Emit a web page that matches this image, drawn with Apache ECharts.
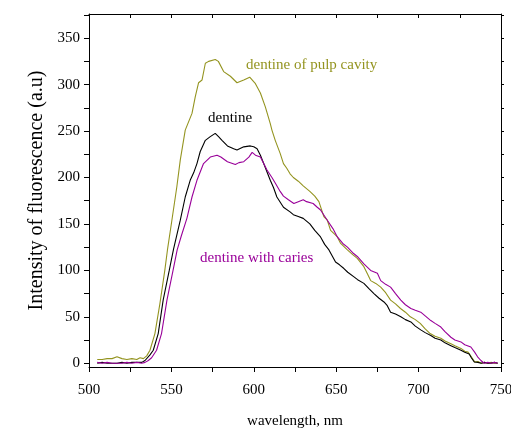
<!DOCTYPE html>
<html><head><meta charset="utf-8">
<script src="https://cdn.jsdelivr.net/npm/echarts@6/dist/echarts.min.js"></script>
<style>html,body{margin:0;padding:0;background:#fff}#c{width:511px;height:430px}</style>
</head><body><div id="c"></div>
<script>
const xTicks = [500,525,550,575,600,625,650,675,700,725,750];
const xLabels = [500,550,600,650,700,750];
const yTicks = [0,25,50,75,100,125,150,175,200,225,250,275,300,325,350,375];
const yLabels = [0,50,100,150,200,250,300,350];

const pulpWl = [505,508,511,514,517,520,523,526,529,531,533,535,537,540,543,546,547.6,550.3,553.3,555.4,558.4,562.5,564.5,566.5,568.6,570.6,572.6,576.6,577.5,578.5,581.7,585.8,589.8,593.9,597.5,601,604,607,610,611,613,616,618,620,622,624,627,630,634,637,639.5,641,642.5,644.6,646.6,649,650.7,652.7,656.8,660,662.8,666.8,669,670.9,674,677,680,683,686,689,692,695,698,701,704,707,710,713.5,716,719.6,722,725.7,728,730,732,734,736,738,740,742,744,746,748];
const pulpVal = [4,4,5,5,7,5,4,5,4,6,5,8,14,32,64,100,122,154,190,219,251,269,287,302,305,323,325,327,328,325,314,309,302,305,308,301,291,276,258,251,240,226,215,210,204,200,196,191,185,180,174,166,158,154,143,139,136,129,122,117,113,104,96,89,86,82,76,68,64,59,55,50,47,43,37,32,29,27,24,21,19,16,13,12,7,1.5,2,0,1,0,1,0,0];

const dentWl = [505,508,511,514,517,520,523,526,529,532,534,535,537,539,542,545,548.7,551.3,555.4,558.4,561.4,563.5,565.5,567.5,570.6,573.6,576.6,578.6,580.7,584,587.8,589.8,593.9,597.9,600,602,604,606,610,612,614,618,622,624,627,630,634,637,640.5,643,645.6,649.6,652,654.7,657,660.8,663,666.8,670,672.9,676,679,681,683,686,689.2,692,695.3,698,701.3,704,707.4,710,713.5,716,719.6,722,725.7,728,730.7,732,733.8,736,738,740,742,744,746,748];
const dentVal = [0,1,0,0,0,1,0,1,1,1,3,5,9,14,32,68,100,123,154,179,197,205,215,228,240,244,247.5,244,240,234,231,229.5,233,234,233,231,224,215,197,189,179,168,163,160,158,156,150,143,136,128,122,109,106,102,98,93,90,86,80,75,70,66,62,55,53,50,47,44.5,40,36,33,30,27,25,22,19,17,14,12,10,6,1.4,1,0,1,0,0,1,0];

const cariesWl = [505,508,511,514,517,520,523,526,529,532,534,536,538,541,544,547.3,551,553.5,556,559.4,562.5,565.5,569.5,573.6,577.7,580,584,588.8,591,593.9,597,599,601,604,606,608,611,613,616,618,621,624.3,627,630,632,636,638.5,640.5,644.6,648,650.7,654,656.8,660,662.8,666.8,670.9,675,677,680,683,686,689.2,692,695.3,698,701.3,704,707.4,710,713.5,716,719.6,722,725.7,728,731.7,734,735.8,737.8,739.8,742,744,746,748];
const cariesVal = [1,0,1,0,0,0,1,0,1,0,1,3,6,14,32,68,100,122,137,156,179,197,215,222,224,222,217,214,216,217,222,227,224,222,215,208,200,194,185,180,176,172,174,176,174,172,168,165,154,145,136,129,125,119,115,107,100,97,89,85,82,75,68,63,59,57,55,51,46,43,39,34,28,25,23,20,17.5,12,7,3,0,1,0,1,0];

const OLIVE = '#949420', PURPLE = '#990099', BLACK = '#000000';
const FONT = '"Liberation Serif", "Times New Roman", serif';
const zip = (a, b) => a.map((v, i) => [v, b[i]]);

const chart = echarts.init(document.getElementById('c'), null, {renderer: 'canvas'});
const axisBase = {
  type: 'value', splitLine: {show: false},
  axisLine: {show: true, onZero: false, lineStyle: {color: '#000', width: 1}}
};
chart.setOption({
  animation: false,
  backgroundColor: '#fff',
  grid: {left: 89, right: 10, top: 14, bottom: 63, containLabel: false, outerBoundsMode: 'none'},
  xAxis: [
    Object.assign({}, axisBase, {
      min: 500, max: 750, position: 'bottom',
      axisTick: {show: true, inside: false, length: 5, customValues: xTicks, lineStyle: {color: '#000'}},
      axisLabel: {customValues: xLabels, margin: 16, fontFamily: FONT, fontSize: 15, color: '#000'},
      name: 'wavelength, nm', nameLocation: 'middle', nameGap: 47,
      nameTextStyle: {fontFamily: FONT, fontSize: 15, color: '#000'}
    }),
    Object.assign({}, axisBase, {
      min: 500, max: 750, position: 'top',
      axisTick: {show: true, inside: true, length: 4, customValues: xTicks, lineStyle: {color: '#000'}},
      axisLabel: {show: false}
    })
  ],
  yAxis: [
    Object.assign({}, axisBase, {
      min: -4, max: 376, position: 'left',
      axisTick: {show: true, inside: false, length: 5, customValues: yTicks, lineStyle: {color: '#000'}},
      axisLabel: {customValues: yLabels, margin: 9, fontFamily: FONT, fontSize: 15, color: '#000'},
      name: 'Intensity of fluorescence (a.u)', nameLocation: 'middle', nameGap: 42, nameRotate: 90,
      nameTextStyle: {fontFamily: FONT, fontSize: 20, color: '#000'}
    }),
    Object.assign({}, axisBase, {
      min: -4, max: 376, position: 'right',
      axisTick: {show: true, inside: false, length: 3, customValues: yTicks, lineStyle: {color: '#000'}},
      axisLabel: {show: false}
    })
  ],
  series: [
    {type: 'line', name: 'dentine of pulp cavity', data: zip(pulpWl, pulpVal), showSymbol: false, smooth: false,
     lineStyle: {color: OLIVE, width: 1.1}, itemStyle: {color: OLIVE}},
    {type: 'line', name: 'dentine', data: zip(dentWl, dentVal), showSymbol: false,
     lineStyle: {color: BLACK, width: 1.1}, itemStyle: {color: BLACK}},
    {type: 'line', name: 'dentine with caries', data: zip(cariesWl, cariesVal), showSymbol: false,
     lineStyle: {color: PURPLE, width: 1.1}, itemStyle: {color: PURPLE}}
  ],
  graphic: [
    {type: 'text', left: 246, top: 58, style: {text: 'dentine of pulp cavity', fill: OLIVE, font: '15px ' + FONT}},
    {type: 'text', left: 208, top: 111, style: {text: 'dentine', fill: BLACK, font: '15px ' + FONT}},
    {type: 'text', left: 200, top: 251, style: {text: 'dentine with caries', fill: PURPLE, font: '15px ' + FONT}}
  ]
});
</script>
</body></html>
